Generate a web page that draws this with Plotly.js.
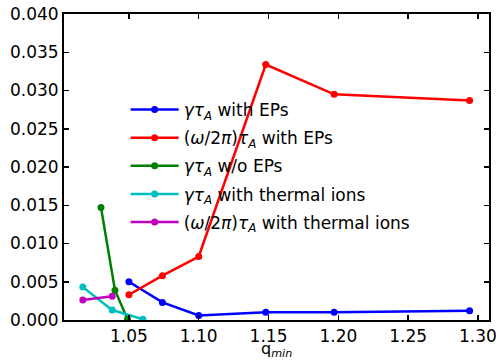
<!DOCTYPE html>
<html>
<head>
<meta charset="utf-8">
<script src="https://cdn.plot.ly/plotly-3.0.1.min.js"></script>
<style>html,body{margin:0;padding:0;background:#fff}#chart{width:500px;height:362px}</style>
</head>
<body>
<div id="chart"></div>
<script>
var names = [
  "<i>γτ</i><sub><i>A</i></sub> with EPs",
  "(<i>ω</i>/2<i>π</i>)<i>τ</i><sub><i>A</i></sub> with EPs",
  "<i>γτ</i><sub><i>A</i></sub> w/o EPs",
  "<i>γτ</i><sub><i>A</i></sub> with thermal ions",
  "(<i>ω</i>/2<i>π</i>)<i>τ</i><sub><i>A</i></sub> with thermal ions"
];
var colors = ["#0000ff", "#ff0000", "#008000", "#00bfbf", "#bf00bf"];
var xTitle = "q<sub><i>min</i></sub>";

var qEP = [1.05, 1.074, 1.10, 1.148, 1.197, 1.294];
var gammaEP = [0.0050, 0.0023, 0.0006, 0.0010, 0.0010, 0.0012];
var omegaEP = [0.0033, 0.0058, 0.0083, 0.0334, 0.0295, 0.0287];

var qNoEP = [1.030, 1.040, 1.049];
var gammaNoEP = [0.0147, 0.0039, 0.0001];

var qTh = [1.017, 1.038, 1.060];
var gammaTh = [0.0043, 0.0013, 0.0001];

var qThOm = [1.017, 1.038];
var omegaTh = [0.0026, 0.0031];

var xs = [qEP, qEP, qNoEP, qTh, qThOm];
var ys = [gammaEP, omegaEP, gammaNoEP, gammaTh, omegaTh];

var traces = xs.map(function (x, i) {
  return {
    x: x, y: ys[i], name: names[i], type: "scatter", mode: "lines+markers",
    line: {color: colors[i], width: 2.5},
    marker: {color: colors[i], size: 7},
    legendgroup: "g" + i
  };
});

var axisCommon = {
  showline: true, linecolor: "#000", linewidth: 2, mirror: "allticks",
  ticks: "inside", ticklen: 5, tickwidth: 1.5, tickcolor: "#000",
  showgrid: false, zeroline: false,
  tickfont: {family: "DejaVu Sans", size: 17, color: "#000"}
};

var layout = {
  width: 500, height: 362,
  margin: {l: 64, r: 11, t: 14, b: 42},
  paper_bgcolor: "#fff", plot_bgcolor: "#fff",
  font: {family: "DejaVu Sans", color: "#000"},
  xaxis: Object.assign({}, axisCommon, {
    range: [1.0035, 1.3079], tick0: 1.05, dtick: 0.05, tickformat: ".2f"
  }),
  yaxis: Object.assign({}, axisCommon, {
    range: [0, 0.04], dtick: 0.005, tickformat: ".3f"
  }),
  annotations: [{
    text: xTitle, xref: "paper", yref: "paper", x: 0.5, y: -0.097,
    xanchor: "center", yanchor: "middle", showarrow: false,
    font: {family: "DejaVu Sans", size: 16, color: "#000"}
  }],
  showlegend: true,
  legend: {
    x: 0.145, y: 0.745, xanchor: "left", yanchor: "top",
    bgcolor: "rgba(0,0,0,0)", borderwidth: 0,
    font: {family: "DejaVu Sans", size: 17, color: "#000"},
    tracegroupgap: 3, itemwidth: 48
  }
};

Plotly.newPlot("chart", traces, layout, {staticPlot: true, displayModeBar: false});
</script>
</body>
</html>
